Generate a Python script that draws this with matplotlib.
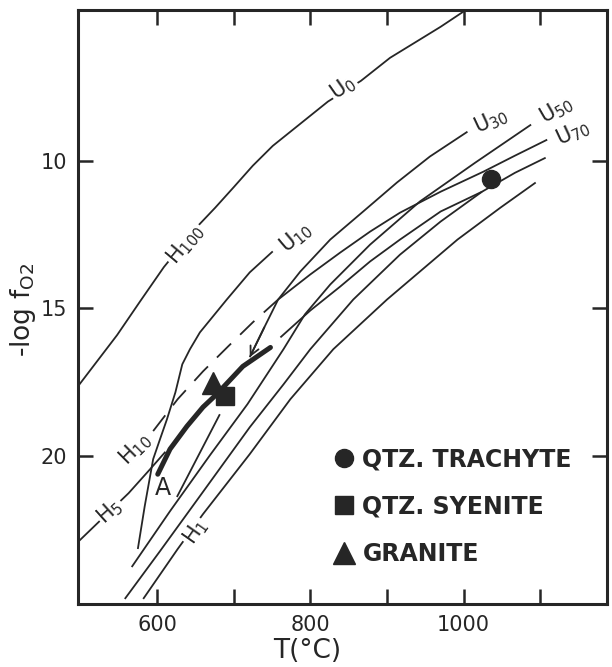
import matplotlib
matplotlib.use('Agg')
import matplotlib.pyplot as plt

INK = '#262626'

# Curves: temperature (deg C) against -log fO2
u0_t = [495, 548, 578, 609, 650, 676, 700, 725, 751, 787, 823, 866, 904, 943, 970, 1003]
u0_v = [17.7, 15.9, 14.76, 13.6, 12.3, 11.59, 10.9, 10.17, 9.5, 8.75, 8.0, 7.3, 6.52, 5.9, 5.47, 4.9]

u10_t = [751, 721, 691, 656, 643, 633, 624, 613, 604, 595, 584, 575]
u10_v = [13.07, 13.78, 14.70, 15.81, 16.38, 16.89, 17.84, 18.75, 19.42, 20.10, 21.69, 23.14]

u30_t = [1005, 956, 913, 869, 826, 787, 758, 740, 721]
u30_v = [9.02, 9.86, 10.74, 11.72, 12.67, 13.75, 14.70, 15.64, 16.65]

u50_t = [567, 617, 669, 718, 765, 793, 826, 878, 943, 1015, 1088]
u50_v = [23.75, 21.86, 19.97, 18.24, 16.38, 15.20, 14.19, 12.84, 11.38, 10.07, 8.78]

u70_t = [758, 800, 839, 878, 917, 970, 1026, 1067, 1109]
u70_v = [14.70, 13.85, 13.11, 12.40, 11.76, 11.05, 10.37, 9.83, 9.29]

h10_t = [595, 627, 660, 693, 725, 758]
h10_v = [19.15, 18.07, 17.13, 16.28, 15.47, 14.70]

h5_t = [493, 563, 591, 611]
h5_v = [23.0, 21.25, 20.44, 19.85]

h1_t = [582, 627, 660, 721, 774, 830, 900, 992, 1048, 1094]
h1_v = [24.83, 23.14, 21.96, 19.93, 18.07, 16.38, 14.70, 12.67, 11.59, 10.74]

mid_t = [761, 800, 839, 878, 917, 970, 1024]
mid_v = [15.98, 15.07, 14.26, 13.41, 12.67, 11.72, 11.05]

low_t = [558, 604, 656, 721, 765, 800, 856, 917, 970, 1024, 1067, 1107]
low_v = [24.83, 23.21, 21.35, 19.02, 17.57, 16.38, 14.70, 13.18, 12.06, 11.05, 10.41, 9.90]

short_t = [626, 682]
short_v = [21.38, 18.58]

# path from A up to the granite / syenite samples
path_t = [601, 617, 639, 660, 678, 695, 712, 748]
path_v = [20.61, 19.76, 18.99, 18.34, 17.90, 17.43, 16.96, 16.32]

# samples
trachyte_t = [1036]
trachyte_v = [10.61]
syenite_t = [689]
syenite_v = [17.97]
granite_t = [673]
granite_v = [17.53]

# curve labels: text, T, -log fO2, rotation, masked
curve_labels = [
    ('U$_0$', 843, 7.53, 35, True),
    ('H$_{100}$', 637, 12.84, 50, True),
    ('U$_{10}$', 781, 12.6, 40, False),
    ('U$_{30}$', 1036, 8.65, 25, False),
    ('U$_{50}$', 1121, 8.28, 30, False),
    ('U$_{70}$', 1142, 9.05, 25, False),
    ('H$_{10}$', 571, 19.76, 45, False),
    ('H$_5$', 539, 21.86, 42, True),
    ('H$_1$', 650, 22.57, 55, True),
]


def plot_chart():
    """Draws the T - fO2 diagram."""
    plt.rcParams['font.family'] = ['DejaVu Sans']
    plt.rcParams['mathtext.default'] = 'regular'

    fig = plt.figure(figsize=(6.12, 6.67), dpi=100)
    ax = fig.add_axes([0.1275, 0.0945, 0.8643, 0.8906])

    thin = dict(color=INK, lw=1.3, solid_capstyle='butt', solid_joinstyle='round')
    for t, v in [(u0_t, u0_v), (u10_t, u10_v), (u30_t, u30_v), (u50_t, u50_v),
                 (u70_t, u70_v), (h5_t, h5_v), (h1_t, h1_v), (mid_t, mid_v),
                 (low_t, low_v), (short_t, short_v)]:
        ax.plot(t, v, **thin)
    ax.plot(h10_t, h10_v, color=INK, lw=1.3, linestyle=(0, (11, 7)))
    ax.plot(path_t, path_v, color=INK, lw=3.6, solid_capstyle='round')

    # arrow at the lower end of the U30 curve
    ax.annotate('', xy=(u30_t[-1], u30_v[-1]), xytext=(u30_t[-2], u30_v[-2]),
                arrowprops=dict(arrowstyle='->', color=INK, lw=1.3,
                                mutation_scale=16, shrinkA=0, shrinkB=0))

    ax.plot(trachyte_t, trachyte_v, 'o', color=INK, ms=13, label='QTZ. TRACHYTE')
    ax.plot(syenite_t, syenite_v, 's', color=INK, ms=13, label='QTZ. SYENITE')
    ax.plot(granite_t, granite_v, '^', color=INK, ms=16, label='GRANITE')

    for text, t, v, rot, masked in curve_labels:
        box = dict(fc='white', ec='none', pad=1.0) if masked else None
        ax.text(t, v, text, rotation=rot, rotation_mode='anchor', ha='center',
                va='center', fontsize=15, color=INK, bbox=box)
    ax.text(path_t[0] + 7, path_v[0] + 0.45, 'A', fontsize=17, color=INK,
            ha='center', va='center')

    ax.legend(loc='upper left', bbox_to_anchor=(0.482, 0.264), frameon=False,
              prop=dict(weight='bold', size=17), handlelength=0.95,
              handletextpad=0.3, labelspacing=1.0, borderpad=0, borderaxespad=0,
              labelcolor=INK)

    ax.set_xlim(497, 1187)
    ax.set_ylim(25, 4.9)
    ax.set_xticks([600, 800, 1000])
    ax.set_xticks([700, 900, 1100], minor=True)
    ax.set_yticks([10, 15, 20])
    ax.tick_params(which='both', direction='in', length=11, width=1.8,
                   top=True, right=True, color=INK, labelcolor=INK,
                   labelsize=15, pad=8)
    for spine in ax.spines.values():
        spine.set_linewidth(2.2)
        spine.set_color(INK)

    ax.set_xlabel('T(°C)', fontsize=19, color=INK)
    ax.xaxis.set_label_coords(0.433, -0.058)
    ax.set_ylabel(r'-log f$_{\mathregular{O2}}$', fontsize=19, color=INK)
    ax.yaxis.set_label_coords(-0.076, 0.495)

    fig.savefig('out.png', dpi=100)


if __name__ == '__main__':
    plot_chart()
